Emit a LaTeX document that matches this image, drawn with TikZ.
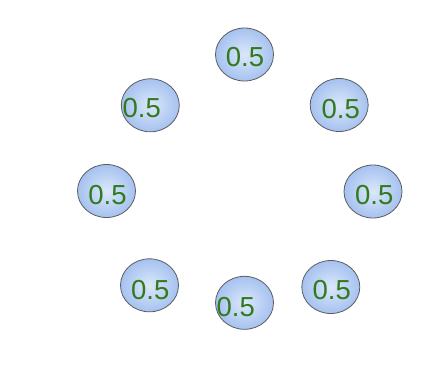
\documentclass[tikz,border=0pt]{standalone}
\usepackage{fontspec}
\setmainfont{Liberation Sans}
\usetikzlibrary{shapes.geometric}
\definecolor{bubbleblue}{rgb}{0.65,0.76,0.94}
\definecolor{bubblelight}{rgb}{0.86,0.91,0.98}
\definecolor{bubbleline}{rgb}{0.36,0.36,0.38}
\definecolor{valgreen}{rgb}{0.2,0.48,0.12}

\begin{document}
\begin{tikzpicture}[x=1pt, y=-1pt,
  bubble/.style={ellipse, draw=bubbleline, line width=0.8pt, inner color=bubblelight, outer color=bubbleblue, minimum width=58pt, minimum height=53pt, inner sep=0pt},
  val/.style={inner sep=0pt, text=valgreen, font=\fontsize{27.5}{30}\selectfont}]
  \useasboundingbox (0,0) rectangle (442,376);
  % ring of bubbles
  \node[bubble] (top) at (244.5,54.5) {};
  \node[bubble] (upright) at (339.2,105) {};
  \node[bubble] (right) at (373,191.5) {};
  \node[bubble] (lowright) at (330.8,287) {};
  \node[bubble] (bottom) at (244.5,302.8) {};
  \node[bubble] (lowleft) at (149.5,285.3) {};
  \node[bubble] (left) at (106.5,191) {};
  \node[bubble] (upleft) at (150.3,105.3) {};
  % values
  \node[val, xshift=0.5pt, yshift=-2.5pt] (ttop) at (top) {0.5};
  \node[val, xshift=1.6pt, yshift=-3.7pt] (tupright) at (upright) {0.5};
  \node[val, xshift=1.2pt, yshift=-3.8pt] (tright) at (right) {0.5};
  \node[val, xshift=0.9pt, yshift=-3.3pt] (tlowright) at (lowright) {0.5};
  \node[val, xshift=-8.7pt, yshift=-4.2pt] (tbottom) at (bottom) {0.5};
  \node[val, xshift=0.8pt, yshift=-5pt] (tlowleft) at (lowleft) {0.5};
  \node[val, xshift=1pt, yshift=-4.3pt] (tleft) at (left) {0.5};
  \node[val, xshift=-8.6pt, yshift=-2.5pt] (tupleft) at (upleft) {0.5};
\end{tikzpicture}
\end{document}
